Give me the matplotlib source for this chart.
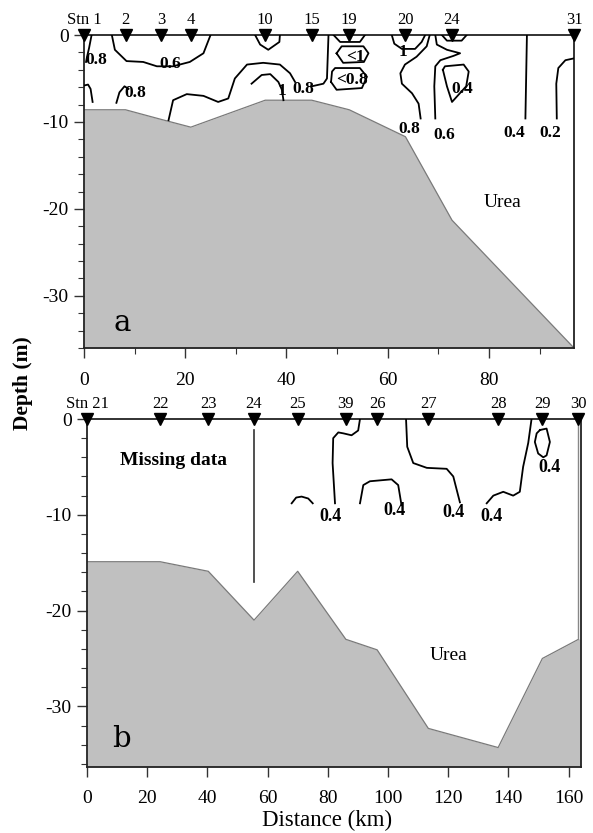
import matplotlib
matplotlib.use("Agg")
import matplotlib.pyplot as plt
import numpy as np
from matplotlib.ticker import MultipleLocator

plt.rcParams['font.family'] = ['Liberation Serif', 'DejaVu Serif']

# ---------------- Transect a ----------------
stn_a_names = ["Stn 1", "2", "3", "4", "10", "15", "19", "20", "24", "31"]
stn_a_dist = [0, 8.2, 15.2, 21.1, 35.8, 45.0, 52.4, 63.5, 72.7, 96.8]
bottom_a = [-8.6, -8.6, -9.7, -10.6, -7.5, -7.5, -8.6, -11.7, -21.3, -36.0]

# urea isolines (distance km, depth m)
iso_a = [
    [(1.5, 0), (1.0, -1.5), (0.6, -2.5), (0.4, -3.1)],
    [(0.1, -5.8), (0.8, -5.7), (1.3, -6.2), (1.7, -7.7)],
    [(6.4, -7.8), (7.0, -6.6), (8.0, -5.9), (8.8, -6.2)],
    [(5.5, 0), (6.1, -1.7), (8.4, -3.0), (11.7, -3.1), (14.4, -3.6), (17.6, -3.6),
     (20.9, -3.1), (23.6, -2.1), (25.0, 0)],
    [(33.8, 0), (34.8, -1.1), (36.4, -1.7), (38.6, -0.8), (38.7, 0)],
    [(16.7, -9.8), (17.6, -7.5), (20.3, -6.8), (23.6, -7.0), (26.5, -7.7), (28.5, -7.3),
     (29.8, -5.0), (32.2, -3.4), (35.4, -3.2), (38.7, -3.4), (40.7, -4.4), (41.7, -5.4)],
    [(45.0, -5.9), (47.3, -5.6), (48.0, -5.0), (48.3, 0)],
    [(33.1, -5.6), (35.1, -4.6), (36.8, -4.5), (38.4, -5.4), (39.1, -6.3), (39.4, -7.5)],
    [(49.3, 0), (50.6, -0.8), (54.5, -0.8), (55.5, 0)],
    [(49.9, -2.1), (50.9, -1.3), (55.2, -1.3), (56.2, -2.1), (55.3, -3.1), (51.2, -3.2), (49.9, -2.1)],
    [(48.8, -5.4), (49.0, -4.2), (49.6, -3.8), (54.5, -3.8), (55.9, -4.8), (54.9, -6.1),
     (49.9, -6.3), (48.8, -5.4)],
    [(60.8, 0), (61.3, -1.0), (62.8, -1.6), (65.4, -1.6), (66.7, -0.8), (67.4, 0)],
    [(68.3, 0), (67.7, -1.3), (65.7, -2.5), (63.4, -3.4), (62.5, -4.4), (62.8, -5.6),
     (64.8, -6.7), (66.1, -7.9), (66.5, -9.6)],
    [(69.4, 0), (69.7, -1.1), (71.7, -1.7), (74.3, -2.1), (73.0, -2.4), (70.4, -2.9),
     (69.4, -3.6), (69.2, -5.9), (69.4, -9.6)],
    [(70.7, 0), (71.7, -0.65), (74.6, -0.65), (75.6, 0)],
    [(70.9, -4.0), (71.3, -3.6), (75.0, -3.4), (76.0, -4.2), (75.5, -5.9), (72.7, -7.7),
     (71.7, -5.9), (70.9, -4.0)],
    [(87.5, 0), (87.2, -9.6)],
    [(96.7, -2.7), (95.1, -2.9), (93.7, -3.8), (93.3, -5.6), (93.4, -9.6)],
]
iso_a_labels = [("0.8", 2.5, -2.9), ("0.6", 17.1, -3.3), ("0.8", 10.2, -6.7),
                ("1", 39.1, -6.4), ("0.8", 43.3, -6.2), ("<1", 53.6, -2.5),
                ("<0.8", 52.9, -5.2), ("1", 63.1, -1.9), ("0.8", 64.3, -10.8),
                ("0.6", 71.1, -11.5), ("0.4", 74.8, -6.2), ("0.4", 85.0, -11.3),
                ("0.2", 92.2, -11.3)]

# ---------------- Transect b ----------------
stn_b_names = ["Stn 21", "22", "23", "24", "25", "39", "26", "27", "28", "29", "30"]
stn_b_dist = [0, 24.3, 40.3, 55.5, 70.0, 86.0, 96.4, 113.4, 136.6, 151.3, 163.3]
bottom_b = [-14.9, -14.9, -15.9, -21.0, -15.9, -23.0, -24.1, -32.3, -34.3, -25.0, -23.0]

iso_b = [
    [(68.0, -8.8), (69.5, -8.2), (71.3, -8.1), (73.5, -8.3), (75.0, -8.8)],
    [(90.7, 0), (90.1, -1.2), (87.9, -1.7), (85.2, -1.5), (83.5, -1.4), (81.8, -2.0),
     (81.6, -4.6), (82.4, -8.8)],
    [(90.7, -8.8), (91.8, -6.9), (94.0, -6.5), (101.2, -6.3), (103.4, -6.9), (104.5, -9.0)],
    [(106.0, 0), (106.4, -2.9), (108.4, -4.6), (112.9, -5.1), (119.5, -5.2), (121.7, -6.0),
     (123.9, -8.7)],
    [(147.7, 0), (146.6, -2.5), (144.9, -5.0), (143.8, -7.6), (141.6, -8.0), (138.3, -7.6),
     (135.0, -8.0), (132.8, -8.8)],
    [(150.5, -1.15), (152.7, -1.0), (153.8, -2.4), (152.7, -3.8), (151.6, -4.0),
     (149.9, -3.6), (148.8, -2.4), (149.4, -1.5), (150.5, -1.15)],
]
iso_b_labels = [("0.4", 81.0, -10.2), ("0.4", 102.3, -9.6), ("0.4", 121.9, -9.8),
                ("0.4", 134.4, -10.2), ("0.4", 153.6, -5.1)]

# sampling casts drawn as vertical lines (distance, top depth, bottom depth)
casts_b = [(55.5, -1.1, -17.0, "#333333", 1.2), (163.3, 0.0, -23.0, "#888888", 1.0)]

fig = plt.figure(figsize=(5.93, 8.33), dpi=100)
ax_a = fig.add_axes([84 / 593, 1 - 348 / 833, 490 / 593, 313 / 833])
ax_b = fig.add_axes([87 / 593, 1 - 766.7 / 833, 493.6 / 593, 347.7 / 833])

LAND = "#c0c0c0"
EDGE = "#7a7a7a"


def style_axes(ax, xmax, ymin, xmajor, xminor):
    ax.set_xlim(0, xmax)
    ax.set_ylim(ymin, 0)
    ax.xaxis.set_major_locator(MultipleLocator(xmajor))
    if xminor:
        ax.xaxis.set_minor_locator(MultipleLocator(xminor))
    ax.yaxis.set_major_locator(MultipleLocator(10))
    ax.yaxis.set_minor_locator(MultipleLocator(2))
    ax.tick_params(which="major", direction="out", length=7, width=1.0,
                   labelsize=14, color="#333333", pad=4)
    ax.tick_params(which="minor", direction="out", length=4, width=0.8, color="#333333")
    ax.tick_params(axis="x", which="major", pad=10)
    ax.yaxis.set_major_formatter(plt.FuncFormatter(lambda v, p: f"{v:.0f}"))
    for s in ax.spines.values():
        s.set_color("#222222")
        s.set_linewidth(1.3)


def draw_section(ax, names, dist, depth, xmax, ymin, iso, labels, lab_size):
    xs = list(dist) + [xmax]
    ds = list(depth) + [depth[-1]]
    ax.fill_between(xs, ds, ymin, color=LAND, zorder=1, linewidth=0)
    ax.plot(dist, depth, color=EDGE, lw=0.9, zorder=2)
    for path in iso:
        p = np.array(path)
        ax.plot(p[:, 0], p[:, 1], color="black", lw=1.3, zorder=3)
    for txt, x, y in labels:
        ax.text(x, y, txt, fontsize=lab_size, fontweight="bold", ha="center",
                va="center", zorder=4)
    ax.plot(dist, np.zeros(len(dist)), linestyle="none", marker="v", ms=8,
            color="black", clip_on=False, zorder=6)
    for name, x in zip(names, dist):
        ax.annotate(name, (x, 0), xytext=(0, 5), textcoords="offset points",
                    ha="center", va="bottom", fontsize=12, annotation_clip=False)


draw_section(ax_a, stn_a_names, stn_a_dist, bottom_a, 96.8, -36.0, iso_a, iso_a_labels, 12.5)
style_axes(ax_a, 96.8, -36.0, 20, 10)
ax_a.text(82.7, -19.3, "Urea", fontsize=14, ha="center", va="center")
ax_a.text(7.5, -33.1, "a", fontsize=21, family="DejaVu Serif", ha="center", va="center")

draw_section(ax_b, stn_b_names, stn_b_dist, bottom_b, 164.0, -36.3, iso_b, iso_b_labels, 13)
style_axes(ax_b, 164.0, -36.3, 20, None)
for x, y0, y1, c, w in casts_b:
    ax_b.plot([x, x], [y0, y1], color=c, lw=w, zorder=3)
ax_b.text(28.7, -4.3, "Missing data", fontsize=14, fontweight="bold", ha="center", va="center")
ax_b.text(120.0, -24.7, "Urea", fontsize=14, ha="center", va="center")
ax_b.text(11.6, -33.4, "b", fontsize=21, family="DejaVu Serif", ha="center", va="center")

fig.text(23 / 593, 1 - 383 / 833, "Depth (m)", rotation=90, fontsize=15.5,
         fontweight="bold", ha="center", va="center")
fig.text(327 / 593, 1 - 820 / 833, "Distance (km)", fontsize=16.5, ha="center", va="center")

fig.savefig("out.png", dpi=100)
